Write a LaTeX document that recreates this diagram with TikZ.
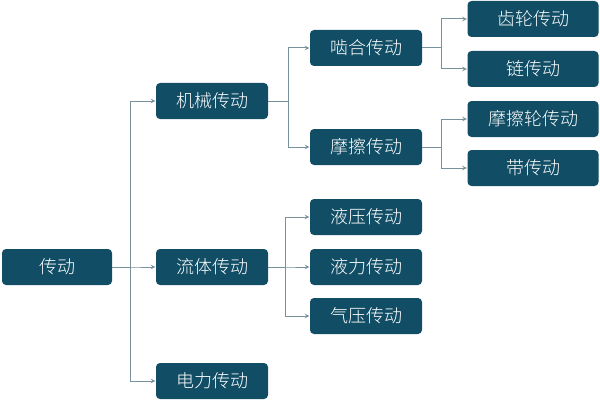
\documentclass[tikz,border=0pt]{standalone}
\usepackage{fontspec}
\usepackage{tikz}
\newfontfamily\cjk{Noto Sans CJK SC Light}
\definecolor{boxteal}{RGB}{17,78,101}
\definecolor{linkgray}{RGB}{120,146,156}
\begin{document}
\begin{tikzpicture}[x=1pt,y=1pt,>=stealth,node distance=155pt,
  box/.style={rectangle,rounded corners=4pt,fill=boxteal,text=white,
    minimum width=112pt,minimum height=36pt,inner sep=0pt,
    font=\cjk\fontsize{18}{20}\selectfont},
  leaf/.style={box,minimum width=131pt},
  link/.style={->,draw=linkgray,line width=1pt,shorten >=0.5pt}]
\useasboundingbox (0,0) rectangle (600,-404);
\node[box,minimum width=110pt] (chuandong) at (57,-267) {传动};
\node[box] (jixie) [right of=chuandong,yshift=166pt] {机械传动};
\node[box] (liuti) [right of=chuandong] {流体传动};
\node[box] (dianli) [right of=chuandong,yshift=-114pt] {电力传动};
\node[box] (niehe) [right of=jixie,node distance=154pt,yshift=53pt] {啮合传动};
\node[box] (mocha) [right of=jixie,node distance=154pt,yshift=-46pt] {摩擦传动};
\node[box] (yeya) [right of=liuti,node distance=154pt,yshift=50pt] {液压传动};
\node[box] (yeli) [right of=liuti,node distance=154pt] {液力传动};
\node[box] (qiya) [right of=liuti,node distance=154pt,yshift=-49pt] {气压传动};
\node[leaf] (chilun) [right of=niehe,node distance=167pt,yshift=29pt] {齿轮传动};
\node[leaf] (lian) [right of=niehe,node distance=167pt,yshift=-21pt] {链传动};
\node[leaf] (mochalun) [right of=mocha,node distance=167pt,yshift=28pt] {摩擦轮传动};
\node[leaf] (dai) [right of=mocha,node distance=167pt,yshift=-21pt] {带传动};

\foreach \to in {jixie,liuti,dianli}
  \draw[link] (chuandong.east) -- ++(18,0) |- (\to);
\foreach \to in {niehe,mocha}
  \draw[link] (jixie.east) -- ++(20,0) |- (\to);
\foreach \to in {yeya,yeli,qiya}
  \draw[link] (liuti.east) -- ++(17,0) |- (\to);
\foreach \to in {chilun,lian}
  \draw[link] (niehe.east) -- ++(19,0) |- (\to);
\foreach \to in {mochalun,dai}
  \draw[link] (mocha.east) -- ++(19,0) |- (\to);
\end{tikzpicture}
\end{document}
